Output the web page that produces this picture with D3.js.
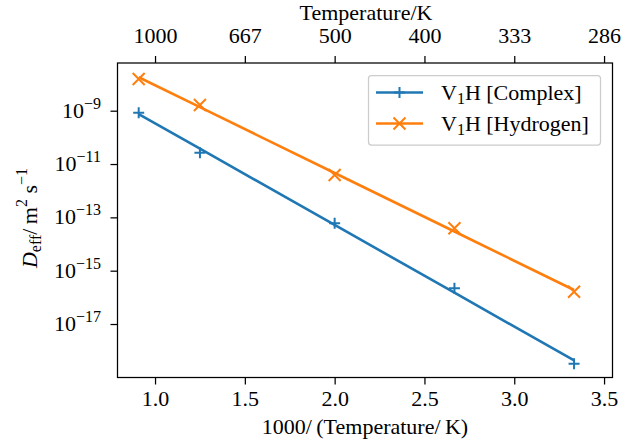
<!DOCTYPE html>
<html>
<head>
<meta charset="utf-8">
<script src="https://cdnjs.cloudflare.com/ajax/libs/d3/7.8.5/d3.min.js"></script>
<style>
  body { margin: 0; background: #fff; }
  svg text { font-family: "Liberation Serif", "DejaVu Serif", serif; fill: #000; }
</style>
</head>
<body>
<svg id="chart" width="621" height="448"></svg>
<script>
// Data
const invT = [0.909, 1.25, 2.0, 2.667, 3.333];              // 1000/(T/K)
const complexD = [8.4e-10, 2.66e-11, 6.0e-14, 2.2e-16, 3.2e-19];
const hydrogenD = [1.55e-8, 1.64e-9, 3.9e-12, 3.9e-14, 1.62e-16];
const bottomTicks = [1.0, 1.5, 2.0, 2.5, 3.0, 3.5];
const topTickLabels = ["1000", "667", "500", "400", "333", "286"];
const yTicks = [-9, -11, -13, -15, -17];                    // exponents
const seriesNames = ["Complex", "Hydrogen"];
const colors = ["#1f77b4", "#ff7f0e"];

const W = 621, H = 448;
const m = { left: 117.5, right: 612.5, top: 63, bottom: 377.5 };

const svg = d3.select('#chart');

const x = d3.scaleLinear().domain([0.791, 3.547]).range([m.left, m.right]);
const y = d3.scaleLog().domain([Math.pow(10, -19.006), Math.pow(10, -7.211)]).range([m.bottom, m.top]);

// straight-line fit of log10(D) against 1000/T
function fit(xs, ys) {
    let ly = ys.map(v => Math.log10(v));
    let mx = d3.mean(xs), my = d3.mean(ly);
    let sxy = d3.sum(xs, (v, i) => (v - mx) * (ly[i] - my));
    let sxx = d3.sum(xs, v => (v - mx) * (v - mx));
    let b = sxy / sxx;
    return xs.map(v => ({x: v, y: Math.pow(10, my + b * (v - mx))}));
}

const fs = 22, fsSmall = 16;

// bottom axis
const axB = svg.append('g').attr('transform', 'translate(0,' + m.bottom + ')')
    .call(d3.axisBottom(x).tickValues(bottomTicks).tickFormat(d3.format('.1f')).tickSize(7).tickPadding(6));
// top axis
const axT = svg.append('g').attr('transform', 'translate(0,' + m.top + ')')
    .call(d3.axisTop(x).tickValues(bottomTicks).tickFormat((d, i) => topTickLabels[i]).tickSize(7).tickPadding(13));
// left axis
const axL = svg.append('g').attr('transform', 'translate(' + m.left + ',0)')
    .call(d3.axisLeft(y).tickValues(yTicks.map(e => Math.pow(10, e))).tickFormat('').tickSize(7));

[axB, axT, axL].forEach(g => {
    g.select('.domain').remove();
    g.selectAll('.tick line').attr('stroke', '#000').attr('stroke-width', 1.25);
    g.selectAll('.tick text').attr('font-size', fs).attr('font-family', '"Liberation Serif", serif');
});

// log tick labels with superscripts
yTicks.forEach(e => {
    let t = svg.append('text')
        .attr('x', 101).attr('y', y(Math.pow(10, e)) + 7)
        .attr('text-anchor', 'end')
        .attr('font-size', fs);
    t.append('tspan').text('10');
    t.append('tspan').attr('dy', -9).attr('font-size', fsSmall).text('\u2212' + Math.abs(e));
});

// frame
svg.append('rect')
    .attr('x', m.left).attr('y', m.top)
    .attr('width', m.right - m.left).attr('height', m.bottom - m.top)
    .attr('fill', 'none').attr('stroke', '#000').attr('stroke-width', 1.25);

// series
const series = [complexD, hydrogenD];
const line = d3.line().x(d => x(d.x)).y(d => y(d.y));

function plus(g, cx, cy, c) {
    let s = 5.5;
    g.append('path').attr('d', `M${cx - s},${cy}H${cx + s}M${cx},${cy - s}V${cy + s}`)
        .attr('stroke', c).attr('stroke-width', 2).attr('fill', 'none');
}
function cross(g, cx, cy, c) {
    let s = 6;
    g.append('path').attr('d', `M${cx - s},${cy - s}L${cx + s},${cy + s}M${cx - s},${cy + s}L${cx + s},${cy - s}`)
        .attr('stroke', c).attr('stroke-width', 2).attr('fill', 'none');
}
const markers = [plus, cross];

series.forEach((vals, k) => {
    svg.append('path')
        .datum(fit(invT, vals))
        .attr('d', line)
        .attr('fill', 'none')
        .attr('stroke', colors[k])
        .attr('stroke-width', 2.6);
    let g = svg.append('g');
    vals.forEach((v, i) => markers[k](g, x(invT[i]), y(v), colors[k]));
});

// legend
svg.append('rect')
    .attr('x', 368.5).attr('y', 75.5).attr('width', 232).attr('height', 69.5)
    .attr('rx', 3).attr('fill', '#fff').attr('fill-opacity', 0.8)
    .attr('stroke', '#cccccc').attr('stroke-width', 1.25);
seriesNames.forEach((name, k) => {
    let ly = 92.5 + k * 31;
    svg.append('line').attr('x1', 376).attr('x2', 423).attr('y1', ly).attr('y2', ly)
        .attr('stroke', colors[k]).attr('stroke-width', 2.6);
    markers[k](svg, 399.5, ly, colors[k]);
    let t = svg.append('text').attr('x', 441).attr('y', ly + 7.5).attr('font-size', fs);
    t.append('tspan').text('V');
    t.append('tspan').attr('dy', 4).attr('font-size', fsSmall).text('1');
    t.append('tspan').attr('dy', -4).text('H [' + name + ']');
});

// axis titles
svg.append('text').attr('x', 366).attr('y', 20)
    .attr('text-anchor', 'middle').attr('font-size', fs).text('Temperature/K');
svg.append('text').attr('x', 365).attr('y', 434)
    .attr('text-anchor', 'middle').attr('font-size', fs).text('1000/\u2009(Temperature/\u2009K)');

const yl = svg.append('text')
    .attr('transform', 'translate(37,' + 218 + ') rotate(-90)')
    .attr('text-anchor', 'middle').attr('font-size', fs);
yl.append('tspan').attr('font-style', 'italic').text('D');
yl.append('tspan').attr('dy', 4).attr('font-size', fsSmall).text('eff');
yl.append('tspan').attr('dy', -4).text('/\u2009m');
yl.append('tspan').attr('dy', -10).attr('font-size', fsSmall).text('2');
yl.append('tspan').attr('dy', 10).text(' s');
yl.append('tspan').attr('dy', -10).attr('font-size', fsSmall).text('\u22121');
</script>
</body>
</html>
